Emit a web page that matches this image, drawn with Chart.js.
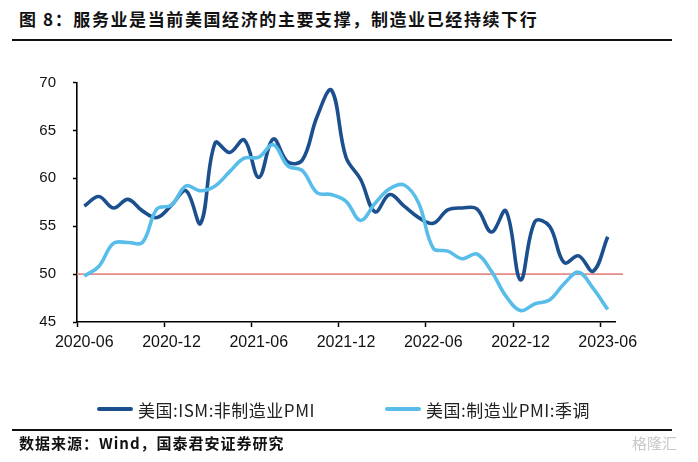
<!DOCTYPE html>
<html><head><meta charset="utf-8">
<script src="https://cdn.jsdelivr.net/npm/chart.js@4.4.0/dist/chart.umd.min.js"></script>
<style>
html,body{margin:0;padding:0;background:#fff;}
#wrap{position:relative;width:698px;height:462px;overflow:hidden;background:#fff;}
#c{position:absolute;left:0;top:0;}
.title{position:absolute;left:19px;top:6px;font:700 17px "Noto Sans CJK SC";letter-spacing:1.6px;color:#111;white-space:nowrap;}
.rule{position:absolute;left:12px;width:660px;height:2px;background:#111;}
.leg{position:absolute;top:398px;height:22px;display:flex;align-items:center;font:400 17px "Noto Sans CJK SC";color:#222;white-space:nowrap;letter-spacing:0.5px;}
.sw{display:inline-block;width:36px;height:4px;border-radius:2px;margin-right:5px;}
.src{position:absolute;left:19px;top:432px;font:700 15px "Noto Sans CJK SC";letter-spacing:1px;color:#111;white-space:nowrap;}
.wm{position:absolute;left:632px;top:432px;font:400 15px "Noto Sans CJK SC";color:#c8c8c8;white-space:nowrap;}
</style></head>
<body>
<div id="wrap">
  <div class="title">图 8：服务业是当前美国经济的主要支撑，制造业已经持续下行</div>
  <div class="rule" style="top:39px"></div>
  <canvas id="c" width="698" height="462"></canvas>
  <div class="leg" style="left:97px"><span class="sw" style="background:#1b4f8e"></span><span id="l1"></span></div>
  <div class="leg" style="left:385px"><span class="sw" style="background:#58bde9"></span><span id="l2"></span></div>
  <div class="rule" style="top:429px"></div>
  <div class="src">数据来源：Wind，国泰君安证券研究</div>
  <div class="wm">格隆汇</div>
</div>
<script>
const months = ["2020-06","2020-07","2020-08","2020-09","2020-10","2020-11","2020-12",
"2021-01","2021-02","2021-03","2021-04","2021-05","2021-06","2021-07","2021-08","2021-09","2021-10","2021-11","2021-12",
"2022-01","2022-02","2022-03","2022-04","2022-05","2022-06","2022-07","2022-08","2022-09","2022-10","2022-11","2022-12",
"2023-01","2023-02","2023-03","2023-04","2023-05","2023-06"];
const seriesNames = ["美国:ISM:非制造业PMI","美国:制造业PMI:季调"];
const servicesPMI = [57.1,58.1,56.9,57.8,56.6,55.9,57.2,58.7,55.3,63.7,62.7,64.0,60.1,64.1,61.7,61.9,66.4,69.2,62.2,59.9,56.5,58.3,57.1,55.9,55.3,56.7,56.9,56.8,54.4,56.6,49.4,55.5,55.0,51.2,51.9,50.3,53.9];
const manufPMI = [49.8,50.8,53.2,53.3,53.3,56.8,57.2,59.2,58.7,59.2,60.7,62.1,62.2,63.5,61.3,60.8,58.5,58.3,57.6,55.6,57.4,58.9,59.3,57.4,52.7,52.4,51.6,52.1,50.3,47.7,46.2,46.9,47.3,49.0,50.2,48.5,46.3];
const yTicks = [45,50,55,60,65,70];
const refValue = 50;
const tickEvery = 6;

document.getElementById('l1').textContent = seriesNames[0];
document.getElementById('l2').textContent = seriesNames[1];

const refLine = {
  id:'refLine',
  beforeDatasetsDraw(chart){
    const {ctx, chartArea, scales:{y}} = chart;
    const py = y.getPixelForValue(refValue);
    ctx.save();
    ctx.strokeStyle = '#e58a86';
    ctx.lineWidth = 1.6;
    ctx.beginPath();
    ctx.moveTo(chartArea.left, py);
    ctx.lineTo(chartArea.right + 8, py);
    ctx.stroke();
    ctx.restore();
  }
};

new Chart(document.getElementById('c'), {
  type:'line',
  data:{
    labels: months,
    datasets:[
      {label:seriesNames[0], data:servicesPMI, borderColor:'#1b4f8e', borderWidth:3.6, pointRadius:0, tension:0.38, order:1},
      {label:seriesNames[1], data:manufPMI, borderColor:'#58bde9', borderWidth:3.6, pointRadius:0, tension:0.38, order:0}
    ]
  },
  options:{
    responsive:false,
    animation:false,
    events:[],
    layout:{padding:{left:0,right:83,top:82.5,bottom:100}},
    plugins:{legend:{display:false}, tooltip:{enabled:false}},
    scales:{
      x:{
        offset:true,
        afterFit(s){ s.height = 40; },
        grid:{offset:true, drawOnChartArea:false, drawTicks:true, tickLength:5, tickWidth:1.5,
              tickColor:(ctx)=> (ctx.index % tickEvery === 0 ? '#000' : 'rgba(0,0,0,0)')},
        border:{display:true, color:'#000', width:1.6},
        ticks:{autoSkip:false, maxRotation:0, minRotation:0, padding:6, color:'#111',
               font:{family:'"Liberation Sans", Arial, sans-serif', size:16},
               callback:(v,i)=> (i % tickEvery === 0 ? months[i] : '')}
      },
      y:{
        min:45, max:70,
        afterFit(s){ s.width = 77; },
        afterBuildTicks(s){ s.ticks = yTicks.map(v=>({value:v})); },
        grid:{drawOnChartArea:false, drawTicks:true, tickLength:4, tickWidth:1.5, tickColor:'#000'},
        border:{display:true, color:'#000', width:1.6},
        ticks:{padding:17, color:'#111', font:{family:'"Liberation Sans", Arial, sans-serif', size:15}}
      }
    }
  },
  plugins:[refLine]
});
</script>
</body></html>
